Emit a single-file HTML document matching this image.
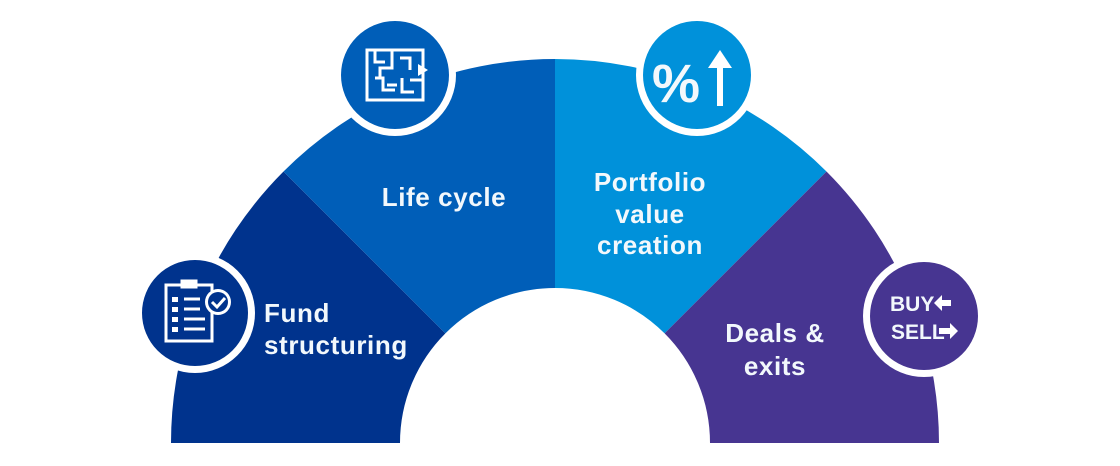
<!DOCTYPE html>
<html><head><style>
html,body{margin:0;padding:0;background:#fff;}
svg{display:block}
text{font-family:"Liberation Sans",sans-serif;font-weight:bold;fill:#f2f8fc;font-size:26px;letter-spacing:0.6px}
</style></head><body>
<svg width="1120" height="466" viewBox="0 0 1120 466">
<path d="M171,443 A384,384 0 0 1 283.5,171.5 L445.4,333.4 A155,155 0 0 0 400,443 Z" fill="#00338d"/>
<path d="M283.5,171.5 A384,384 0 0 1 555,59 L555,288 A155,155 0 0 0 445.4,333.4 Z" fill="#005eb8"/>
<path d="M555,59 A384,384 0 0 1 826.5,171.5 L664.6,333.4 A155,155 0 0 0 555,288 Z" fill="#0091da"/>
<path d="M826.5,171.5 A384,384 0 0 1 939,443 L710,443 A155,155 0 0 0 664.6,333.4 Z" fill="#473591"/>
<circle cx="195" cy="313" r="60" fill="#fff"/><circle cx="195" cy="313" r="53" fill="#00338d"/>
<circle cx="395" cy="75" r="61" fill="#fff"/><circle cx="395" cy="75" r="54" fill="#005eb8"/>
<circle cx="697" cy="75" r="61" fill="#fff"/><circle cx="697" cy="75" r="54" fill="#0091da"/>
<circle cx="924" cy="316" r="61" fill="#fff"/><circle cx="924" cy="316" r="54" fill="#473591"/>
<g stroke="#fff" stroke-width="3" fill="none">
<rect x="166" y="285" width="46" height="56"/>
<rect x="182" y="281" width="14" height="6" fill="#fff"/>
<line x1="184" y1="299" x2="200" y2="299"/><line x1="184" y1="309" x2="200" y2="309"/>
<line x1="184" y1="319" x2="205" y2="319"/><line x1="184" y1="329" x2="205" y2="329"/>
</g>
<g fill="#fff"><rect x="172" y="297" width="6" height="5"/><rect x="172" y="307" width="6" height="5"/><rect x="172" y="317" width="6" height="5"/><rect x="172" y="327" width="6" height="5"/></g>
<circle cx="218" cy="302" r="13" fill="#fff"/><circle cx="218" cy="302" r="10" fill="#00338d"/>
<path d="M212,302 l5,5 l8,-9" stroke="#fff" stroke-width="3" fill="none"/>
<g stroke="#fff" stroke-width="3" fill="none">
<rect x="367" y="50" width="56" height="50"/>
<path d="M375,50 v12 h10 M392,50 v18 h-12 v10 M400,58 h10 v12 M375,78 h8 v12 h12 M402,78 v14 h12 M387,85 h10 M410,80 h12"/>
</g>
<path d="M418,64 l10,6 l-10,6 z" fill="#fff"/>
<text x="652" y="102" style="font-size:54px;letter-spacing:0">%</text>
<rect x="717" y="66" width="6" height="40" fill="#fff"/>
<path d="M708,68 l12,-18 l12,18 z" fill="#fff"/>
<text x="890" y="311" style="font-size:21px;letter-spacing:0">BUY</text>
<text x="891" y="339" style="font-size:21px;letter-spacing:0">SELL</text>
<path d="M934,303 l8,-8 v5 h9 v6 h-9 v5 z" fill="#fff"/>
<path d="M958,331 l-8,-8 v5 h-11 v6 h11 v5 z" fill="#fff"/>
<text x="264" y="322">Fund</text>
<text x="264" y="354">structuring</text>
<text x="444" y="206" text-anchor="middle">Life cycle</text>
<text x="650" y="191" text-anchor="middle">Portfolio</text>
<text x="650" y="223" text-anchor="middle">value</text>
<text x="650" y="254" text-anchor="middle">creation</text>
<text x="775" y="342" text-anchor="middle">Deals &amp;</text>
<text x="775" y="375" text-anchor="middle">exits</text>
</svg>
</body></html>
